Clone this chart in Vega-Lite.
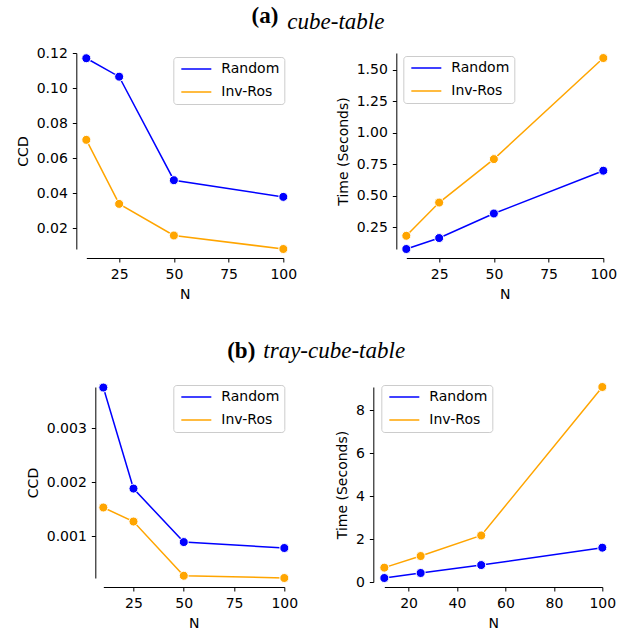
{
  "$schema": "https://vega.github.io/schema/vega-lite/v6.json",
  "padding": {"left": 16, "top": 5, "right": 2, "bottom": 5},
  "background": "white",
  "config": {
    "view": {"stroke": null},
    "font": "DejaVu Sans",
    "axis": {"grid": false, "domainColor": "black", "tickColor": "black", "labelColor": "black", "titleColor": "black", "labelFont": "DejaVu Sans", "labelFontSize": 14, "titleFont": "DejaVu Sans", "titleFontSize": 14, "titleFontWeight": "normal", "tickSize": 4, "labelPadding": 5, "domainWidth": 1, "tickWidth": 1, "labelFlush": false, "labelOverlap": false, "titlePadding": 6},
    "legend": {"title": null, "labelFont": "DejaVu Sans", "labelFontSize": 14, "labelColor": "black", "symbolType": "M-3,0H3", "symbolSize": 100, "symbolOffset": 11, "symbolStrokeWidth": 1.5, "strokeColor": "#cccccc", "fillColor": "white", "cornerRadius": 3, "padding": 5, "rowPadding": 9, "labelOffset": 18, "orient": "none"},
    "title": {"font": "Liberation Serif", "fontSize": 23, "color": "black", "offset": 18, "frame": "group"}
  },
  "datasets": {
    "cube_ccd": [
      {"N": 10, "method": "Random", "value": 0.117},
      {"N": 25, "method": "Random", "value": 0.1065},
      {"N": 50, "method": "Random", "value": 0.0475},
      {"N": 100, "method": "Random", "value": 0.038},
      {"N": 10, "method": "Inv-Ros", "value": 0.0705},
      {"N": 25, "method": "Inv-Ros", "value": 0.034},
      {"N": 50, "method": "Inv-Ros", "value": 0.016},
      {"N": 100, "method": "Inv-Ros", "value": 0.0083}
    ],
    "cube_time": [
      {"N": 10, "method": "Random", "value": 0.078},
      {"N": 25, "method": "Random", "value": 0.165},
      {"N": 50, "method": "Random", "value": 0.36},
      {"N": 100, "method": "Random", "value": 0.7},
      {"N": 10, "method": "Inv-Ros", "value": 0.183},
      {"N": 25, "method": "Inv-Ros", "value": 0.447},
      {"N": 50, "method": "Inv-Ros", "value": 0.792},
      {"N": 100, "method": "Inv-Ros", "value": 1.595}
    ],
    "tray_ccd": [
      {"N": 10, "method": "Random", "value": 0.00375},
      {"N": 25, "method": "Random", "value": 0.00188},
      {"N": 50, "method": "Random", "value": 0.00089},
      {"N": 100, "method": "Random", "value": 0.00078},
      {"N": 10, "method": "Inv-Ros", "value": 0.00153},
      {"N": 25, "method": "Inv-Ros", "value": 0.00127},
      {"N": 50, "method": "Inv-Ros", "value": 0.000267},
      {"N": 100, "method": "Inv-Ros", "value": 0.000225}
    ],
    "tray_time": [
      {"N": 10, "method": "Random", "value": 0.186},
      {"N": 25, "method": "Random", "value": 0.42},
      {"N": 50, "method": "Random", "value": 0.79},
      {"N": 100, "method": "Random", "value": 1.6},
      {"N": 10, "method": "Inv-Ros", "value": 0.67},
      {"N": 25, "method": "Inv-Ros", "value": 1.21},
      {"N": 50, "method": "Inv-Ros", "value": 2.17},
      {"N": 100, "method": "Inv-Ros", "value": 9.09}
    ]
  },
  "resolve": {"scale": {"color": "independent"}, "legend": {"color": "independent"}},
  "columns": 1,
  "align": "all",
  "center": true,
  "spacing": 38,
  "concat": [
    {
      "spacing": 123,
      "bounds": "flush",
      "title": {"text": "\u00a0", "orient": "right", "fontSize": 10, "offset": 6},
      "resolve": {"scale": {"color": "independent"}, "legend": {"color": "independent"}},
      "hconcat": [
        {
          "width": 197, "height": 196,
          "data": {"name": "cube_ccd"},
          "title": {"text": "(a)", "anchor": "end", "fontWeight": "bold", "dx": -5},
          "encoding": {
            "x": {"field": "N", "type": "quantitative", "scale": {"domain": [10, 100], "nice": false, "zero": false}, "axis": {"values": [25, 50, 75, 100], "title": "N", "offset": 9}},
            "y": {"field": "value", "type": "quantitative", "scale": {"domain": [0.0083, 0.12], "nice": false, "zero": false}, "axis": {"values": [0.02, 0.04, 0.06, 0.08, 0.1, 0.12], "format": ".2f", "title": "CCD", "offset": 10}},
            "color": {"field": "method", "type": "nominal", "scale": {"domain": ["Random", "Inv-Ros"], "range": ["blue", "orange"]}, "legend": {"orient": "none", "legendX": 87, "legendY": 4}}
          },
          "layer": [
            {"mark": {"type": "line", "strokeWidth": 1.5}},
            {"mark": {"type": "point", "filled": true, "size": 81, "stroke": "white", "strokeWidth": 1, "opacity": 1}}
          ]
        },
        {
          "width": 197, "height": 196,
          "data": {"name": "cube_time"},
          "title": {"text": "cube-table", "anchor": "start", "fontStyle": "italic", "fontWeight": "normal", "dx": -119},
          "encoding": {
            "x": {"field": "N", "type": "quantitative", "scale": {"domain": [10, 100], "nice": false, "zero": false}, "axis": {"values": [25, 50, 75, 100], "title": "N", "offset": 9}},
            "y": {"field": "value", "type": "quantitative", "scale": {"domain": [0.078, 1.635], "nice": false, "zero": false}, "axis": {"values": [0.25, 0.5, 0.75, 1.0, 1.25, 1.5], "format": ".2f", "title": "Time (Seconds)", "offset": 10}},
            "color": {"field": "method", "type": "nominal", "scale": {"domain": ["Random", "Inv-Ros"], "range": ["blue", "orange"]}, "legend": {"orient": "none", "legendX": -3, "legendY": 3}}
          },
          "layer": [
            {"mark": {"type": "line", "strokeWidth": 1.5}},
            {"mark": {"type": "point", "filled": true, "size": 81, "stroke": "white", "strokeWidth": 1, "opacity": 1}}
          ]
        }
      ]
    },
    {
      "spacing": 100,
      "bounds": "flush",
      "resolve": {"scale": {"color": "independent"}, "legend": {"color": "independent"}},
      "hconcat": [
        {
          "width": 181, "height": 191,
          "data": {"name": "tray_ccd"},
          "title": {"text": "(b)", "anchor": "end", "fontWeight": "bold", "dx": -29},
          "encoding": {
            "x": {"field": "N", "type": "quantitative", "scale": {"domain": [10, 100], "nice": false, "zero": false}, "axis": {"values": [25, 50, 75, 100], "title": "N", "offset": 9}},
            "y": {"field": "value", "type": "quantitative", "scale": {"domain": [0.000225, 0.00376], "nice": false, "zero": false}, "axis": {"values": [0.001, 0.002, 0.003], "format": ".3f", "title": "CCD", "offset": 8}},
            "color": {"field": "method", "type": "nominal", "scale": {"domain": ["Random", "Inv-Ros"], "range": ["blue", "orange"]}, "legend": {"orient": "none", "legendX": 70, "legendY": -2}}
          },
          "layer": [
            {"mark": {"type": "line", "strokeWidth": 1.5}},
            {"mark": {"type": "point", "filled": true, "size": 81, "stroke": "white", "strokeWidth": 1, "opacity": 1}}
          ]
        },
        {
          "width": 218, "height": 195,
          "data": {"name": "tray_time"},
          "title": {"text": "tray-cube-table", "anchor": "start", "fontStyle": "italic", "fontWeight": "normal", "dx": -121},
          "encoding": {
            "x": {"field": "N", "type": "quantitative", "scale": {"domain": [10, 100], "nice": false, "zero": false}, "axis": {"values": [20, 40, 60, 80, 100], "title": "N", "offset": 5}},
            "y": {"field": "value", "type": "quantitative", "scale": {"domain": [0, 9.09], "nice": false, "zero": false}, "axis": {"values": [0, 2, 4, 6, 8], "format": "d", "title": "Time (Seconds)", "offset": 11}},
            "color": {"field": "method", "type": "nominal", "scale": {"domain": ["Random", "Inv-Ros"], "range": ["blue", "orange"]}, "legend": {"orient": "none", "legendX": -3, "legendY": -2}}
          },
          "layer": [
            {"mark": {"type": "line", "strokeWidth": 1.5}},
            {"mark": {"type": "point", "filled": true, "size": 81, "stroke": "white", "strokeWidth": 1, "opacity": 1}}
          ]
        }
      ]
    }
  ]
}
